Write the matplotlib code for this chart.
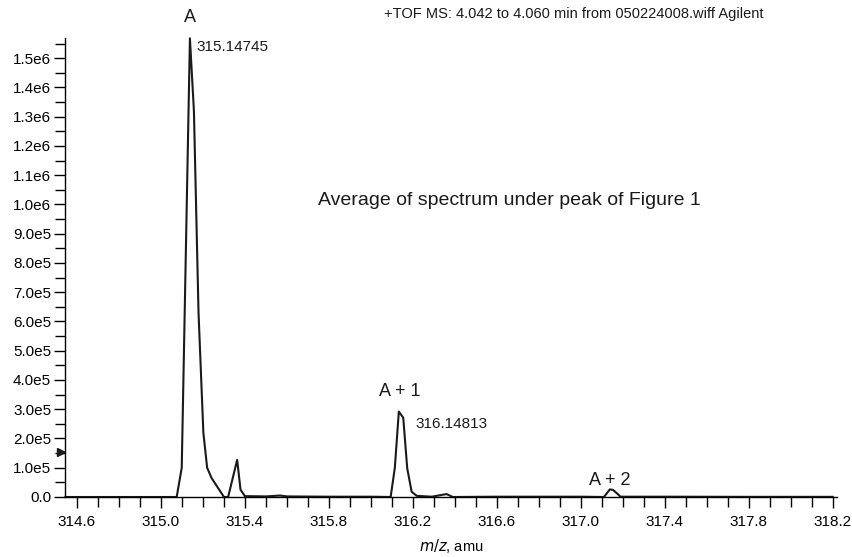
import matplotlib

matplotlib.use("Agg")
import matplotlib.pyplot as plt
import numpy as np
from matplotlib.ticker import FixedLocator, MultipleLocator, FuncFormatter

# spectrum vertices (m/z, intensity)
MZ = [314.545, 315.075, 315.099, 315.138, 315.157, 315.179, 315.202, 315.220,
      315.241, 315.300, 315.320, 315.363, 315.379, 315.400, 315.500, 315.567,
      315.600, 315.800, 316.000, 316.094, 316.114, 316.133, 316.154, 316.173,
      316.194, 316.218, 316.290, 316.360, 316.390, 316.600, 317.000, 317.110,
      317.138, 317.154, 317.189, 317.400, 317.800, 318.200]
INTENSITY = [0, 0, 1.0e5, 1.568e6, 1.32e6, 6.3e5, 2.2e5, 1.0e5,
             6.5e4, 0, 0, 1.27e5, 2.5e4, 3e3, 2e3, 5e3,
             2e3, 1e3, 1e3, 0, 1.0e5, 2.92e5, 2.71e5, 9.8e4,
             1.8e4, 4e3, 1e3, 1.0e4, 0, 1e3, 1e3, 0,
             2.6e4, 2.4e4, 1e3, 1e3, 5e2, 5e2]

X_MAJOR = [314.6, 315.0, 315.4, 315.8, 316.2, 316.6, 317.0, 317.4, 317.8, 318.2]

PEAK_LABELS = ["A", "A + 1", "A + 2"]
PEAK_MASSES = ["315.14745", "316.14813"]

plt.rcParams["font.family"] = ["Liberation Sans Narrow", "Liberation Sans", "DejaVu Sans"]
plt.rcParams["font.size"] = 10

fig = plt.figure(figsize=(8.53, 5.57), dpi=100)
ax = fig.add_axes([65 / 853, 60 / 557, 772 / 853, 459 / 557])

ax.plot(MZ, INTENSITY, color="#1a1a1a", lw=1.5, clip_on=False)

ax.set_xlim(314.543, 318.22)
ax.set_ylim(0, 1.569e6)
ax.spines["top"].set_visible(False)
ax.spines["right"].set_visible(False)
ax.spines["left"].set_linewidth(1.0)
ax.spines["bottom"].set_linewidth(1.0)

ax.xaxis.set_major_locator(FixedLocator(X_MAJOR))
ax.xaxis.set_minor_locator(FixedLocator(np.round(np.arange(314.6, 318.25, 0.1), 2)))
ax.xaxis.set_major_formatter(FuncFormatter(lambda v, p: f"{v:.1f}"))
ax.yaxis.set_major_locator(MultipleLocator(1e5))
ax.yaxis.set_minor_locator(MultipleLocator(5e4))


def _sci(v, p):
    if v == 0:
        return "0.0"
    exp = len(str(int(round(v)))) - 1
    return f"{v / 10 ** exp:.1f}e{exp}"


ax.yaxis.set_major_formatter(FuncFormatter(_sci))
ax.tick_params(axis="both", which="major", length=8, width=1.0, labelsize=11, pad=2)
ax.tick_params(axis="x", which="major", pad=5)
ax.tick_params(axis="both", which="minor", length=7, width=1.0)

ax.set_xlabel("$m/z$, amu", fontsize=10.5, labelpad=6)

# arrow marker on the y axis
ax.plot([314.525], [1.54e5], marker=">", color="#1a1a1a", markersize=6, clip_on=False)

tcol = "#1a1a1a"
ax.text(315.138, 1.638e6, PEAK_LABELS[0], ha="center", va="center", fontsize=13, color=tcol, clip_on=False)
ax.text(315.171, 1.538e6, PEAK_MASSES[0], ha="left", va="center", fontsize=11, color=tcol)
ax.text(316.138, 3.62e5, PEAK_LABELS[1], ha="center", va="center", fontsize=13, color=tcol)
ax.text(316.214, 2.50e5, PEAK_MASSES[1], ha="left", va="center", fontsize=11, color=tcol)
ax.text(317.138, 0.58e5, PEAK_LABELS[2], ha="center", va="center", fontsize=13, color=tcol)
ax.text(315.748, 1.015e6, "Average of spectrum under peak of Figure 1", ha="left", va="center",
        fontsize=14, color=tcol)
ax.text(317.871, 1.651e6, "+TOF MS: 4.042 to 4.060 min from 050224008.wiff Agilent",
        ha="right", va="center", fontsize=10.5, color=tcol, clip_on=False)

fig.savefig("out.png", dpi=100)
